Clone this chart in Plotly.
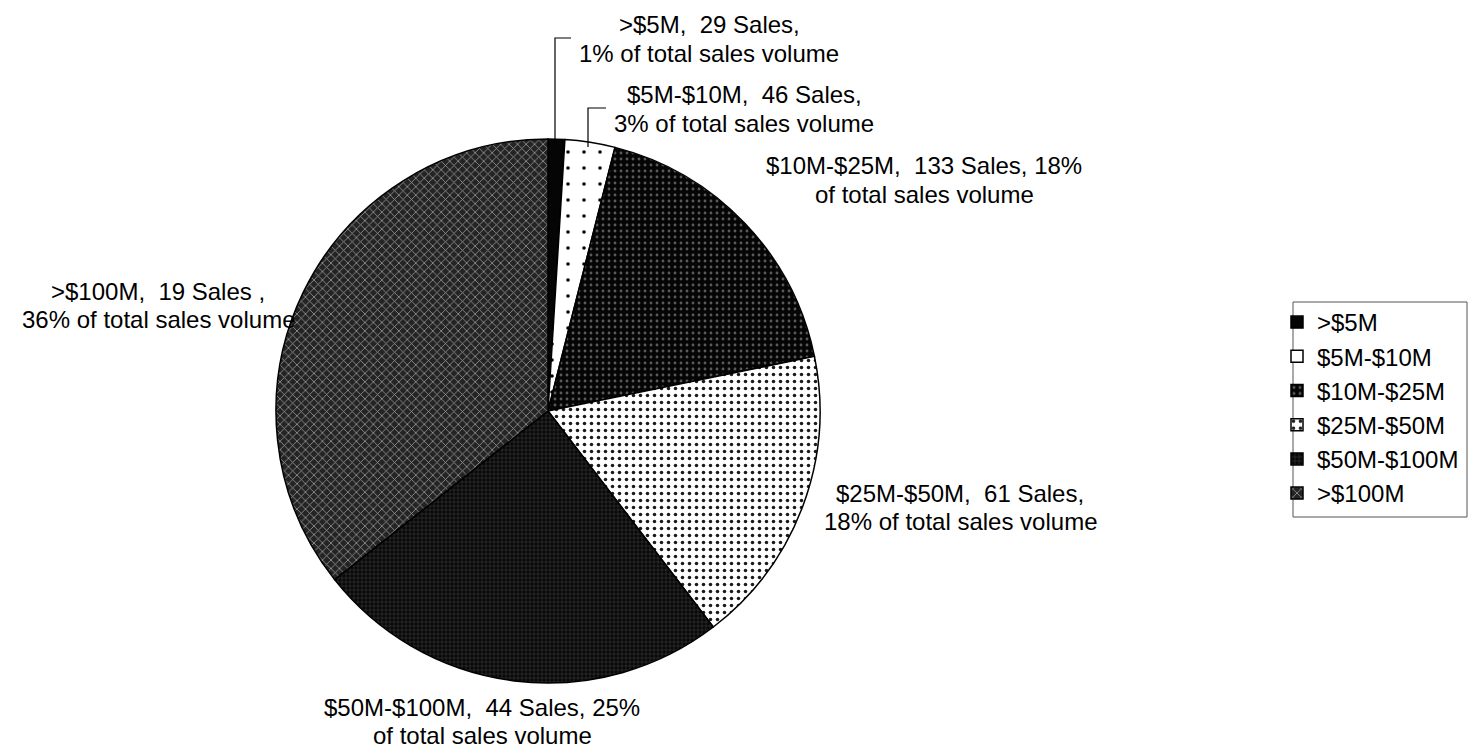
import plotly.graph_objects as go

# Sales volume by price band
categories = [">$5M", "$5M-$10M", "$10M-$25M", "$25M-$50M", "$50M-$100M", ">$100M"]
sales_count = [29, 46, 133, 61, 44, 19]
pct_volume = [1, 3, 18, 18, 25, 36]

W, H = 1473, 752
FONT = "Arial, Liberation Sans, Helvetica, sans-serif"


def px(x):
    return x / W


def py(y):
    return 1 - y / H


# pie centre and radius in pixels
cx, cy, r = 548, 411, 272

fig = go.Figure(
    go.Pie(
        labels=categories,
        values=pct_volume,
        sort=False,
        direction="clockwise",
        rotation=0,
        textinfo="none",
        hoverinfo="label+percent",
        domain=dict(x=[px(cx - r), px(cx + r)], y=[py(cy + r), py(cy - r)]),
        marker=dict(
            colors=["#050505", "#ffffff", "#050505", "#ffffff", "#0a0a0a", "#2a2a2a"],
            line=dict(color="#000000", width=1.5),
            pattern=dict(
                shape=["", ".", ".", ".", "+", "x"],
                fgcolor=["#050505", "#000000", "#5a5a5a", "#1a1a1a", "#4a4a4a", "#9a9a9a"],
                bgcolor=["#050505", "#ffffff", "#050505", "#ffffff", "#080808", "#242424"],
                size=[6, 16, 6, 7, 4, 6],
                solidity=[0.3, 0.04, 0.18, 0.2, 0.2, 0.25],
                fillmode="replace",
            ),
        ),
    )
)

# data labels: two lines per slice, split at different points
label_x = [709, 744, 924, 960, 482, 158]
label_y1 = [24, 94, 165, 492, 706, 290]   # first line centre
LINE_GAP = 28
templates = [
    ("{c},  {n} Sales,", "{p}% of total sales volume"),
    ("{c},  {n} Sales,", "{p}% of total sales volume"),
    ("{c},  {n} Sales, {p}%", "of total sales volume"),
    ("{c},  {n} Sales,", "{p}% of total sales volume"),
    ("{c},  {n} Sales, {p}%", "of total sales volume"),
    ("{c},  {n} Sales ,", "{p}% of total sales volume"),
]
annotations = []
for c, n, p, tpl, x, y1 in zip(categories, sales_count, pct_volume, templates, label_x, label_y1):
    for k, line in enumerate(tpl):
        annotations.append(
            dict(
                text=line.format(c=c, n=n, p=p),
                x=px(x), y=py(y1 + k * LINE_GAP + 1), xref="paper", yref="paper",
                xanchor="center", yanchor="middle", align="center",
                showarrow=False,
                font=dict(family=FONT, size=24, color="#000000"),
            )
        )

# leader lines for the two thin slices
leaders = [
    [(555, 143), (555, 38), (571, 38)],
    [(588, 147), (588, 108), (606, 108)],
]
shapes = []
for pts in leaders:
    path = "M " + " L ".join(f"{px(x)},{py(y)}" for x, y in pts)
    shapes.append(
        dict(type="path", path=path, xref="paper", yref="paper",
             line=dict(color="#000000", width=1.2))
    )

# legend frame
shapes.append(
    dict(type="rect", xref="paper", yref="paper",
         x0=px(1293), x1=px(1467), y0=py(517), y1=py(302),
         line=dict(color="#555555", width=1), fillcolor="rgba(0,0,0,0)")
)

fig.update_layout(
    width=W, height=H,
    margin=dict(l=0, r=0, t=0, b=0),
    paper_bgcolor="#ffffff",
    plot_bgcolor="#ffffff",
    annotations=annotations,
    shapes=shapes,
    showlegend=True,
    legend=dict(
        x=px(1277), y=py(300), xanchor="left", yanchor="top",
        font=dict(family=FONT, size=24, color="#000000"),
        borderwidth=0,
        bgcolor="rgba(0,0,0,0)",
        itemwidth=30,
        traceorder="normal",
    ),
)

fig.write_html("out.html")
